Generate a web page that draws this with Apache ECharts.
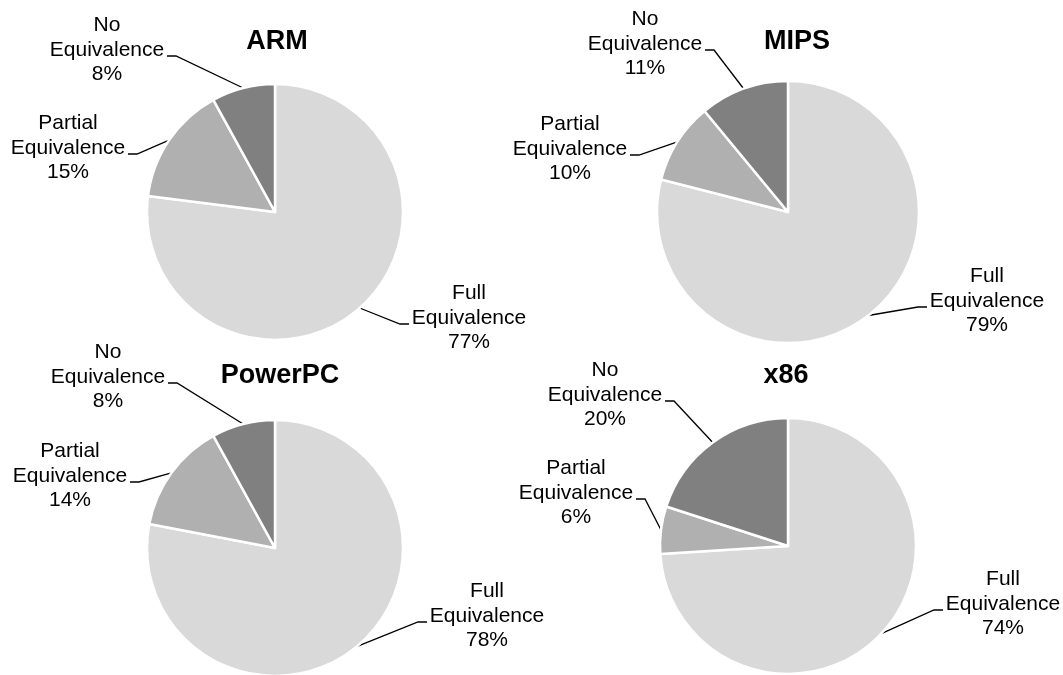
<!DOCTYPE html>
<html>
<head>
<meta charset="utf-8">
<script src="https://cdn.jsdelivr.net/npm/echarts@6/dist/echarts.min.js"></script>
<style>
  html, body { margin: 0; padding: 0; background: #fff; }
  #main { width: 1063px; height: 675px; }
</style>
</head>
<body>
<div id="main"></div>
<script>
// data
const categories = ["Full Equivalence", "Partial Equivalence", "No Equivalence"];
const architectures = ["ARM", "MIPS", "PowerPC", "x86"];
const armValues = [77, 15, 8];
const mipsValues = [79, 10, 11];
const powerpcValues = [78, 14, 8];
const x86Values = [74, 6, 20];
const allValues = [armValues, mipsValues, powerpcValues, x86Values];

const sliceColors = ["#d9d9d9", "#b0b0b0", "#808080"];

// layout: pie centres / radius, title spots, label offsets from the centre
const pieCenters = [[275, 212], [788, 212], [275, 548], [788, 546]];
const pieRadius = [128, 131, 128, 128];
const titleSpots = [[277, 42], [797, 42], [280, 376], [786, 376]];
const labelOffsets = [
    [[194, 106], [-207, -64], [-168, -162]],
    [[199, 89], [-218, -63], [-143, -168]],
    [[212, 68], [-205, -72], [-167, -171]],
    [[215, 58], [-212, -53], [-183, -151]]
];

const font = "'Liberation Sans', Arial, sans-serif";

function makeLabelLayout(si) {
    return function (params) {
        const c = pieCenters[si];
        const off = labelOffsets[si][params.dataIndex];
        const tx = c[0] + off[0];
        const ty = c[1] + off[1];
        const left = off[0] < 0;
        const tailX = left ? tx + 60 : tx - 60;
        const bendX = left ? tailX + 9 : tailX - 9;
        const lineY = ty + 6;
        let p0 = params.labelLinePoints ? params.labelLinePoints[0] : null;
        if (!p0) {
            // fall back to the mid angle point on the rim
            const vals = allValues[si];
            const total = vals.reduce((a, b) => a + b, 0);
            let before = 0;
            for (let k = 0; k < params.dataIndex; k++) before += vals[k];
            const mid = (before + vals[params.dataIndex] / 2) / total * Math.PI * 2;
            p0 = [c[0] + pieRadius[si] * Math.sin(mid), c[1] - pieRadius[si] * Math.cos(mid)];
        }
        return {
            x: tx,
            y: ty,
            align: "center",
            verticalAlign: "middle",
            labelLinePoints: [p0, [bendX, lineY], [tailX, lineY]]
        };
    };
}

const chart = echarts.init(document.getElementById("main"), null, { renderer: "canvas" });

const titles = architectures.map((name, i) => ({
    text: name,
    left: titleSpots[i][0],
    top: titleSpots[i][1],
    padding: 0,
    textAlign: "center",
    textVerticalAlign: "middle",
    textStyle: {
        fontFamily: font,
        fontSize: 27,
        fontWeight: "bold",
        color: "#000"
    }
}));

const series = architectures.map((name, i) => ({
    name: name,
    type: "pie",
    center: pieCenters[i],
    radius: pieRadius[i],
    startAngle: 90,
    clockwise: true,
    avoidLabelOverlap: false,
    animation: false,
    silent: true,
    itemStyle: {
        borderColor: "#ffffff",
        borderWidth: 2.5
    },
    label: {
        show: true,
        position: "outside",
        width: 140,
        fontFamily: font,
        fontSize: 21,
        lineHeight: 24.5,
        color: "#000",
        formatter: function (p) {
            return p.name.replace(" ", "\n") + "\n" + p.value + "%";
        }
    },
    labelLine: {
        show: true,
        length: 10,
        length2: 10,
        lineStyle: { color: "#000", width: 1.3 }
    },
    labelLayout: makeLabelLayout(i),
    data: categories.map((cat, j) => ({
        name: cat,
        value: allValues[i][j],
        itemStyle: { color: sliceColors[j] }
    }))
}));

const option = {
    backgroundColor: "#ffffff",
    title: titles,
    tooltip: { show: false },
    series: series
};

chart.setOption(option);
</script>
</body>
</html>
